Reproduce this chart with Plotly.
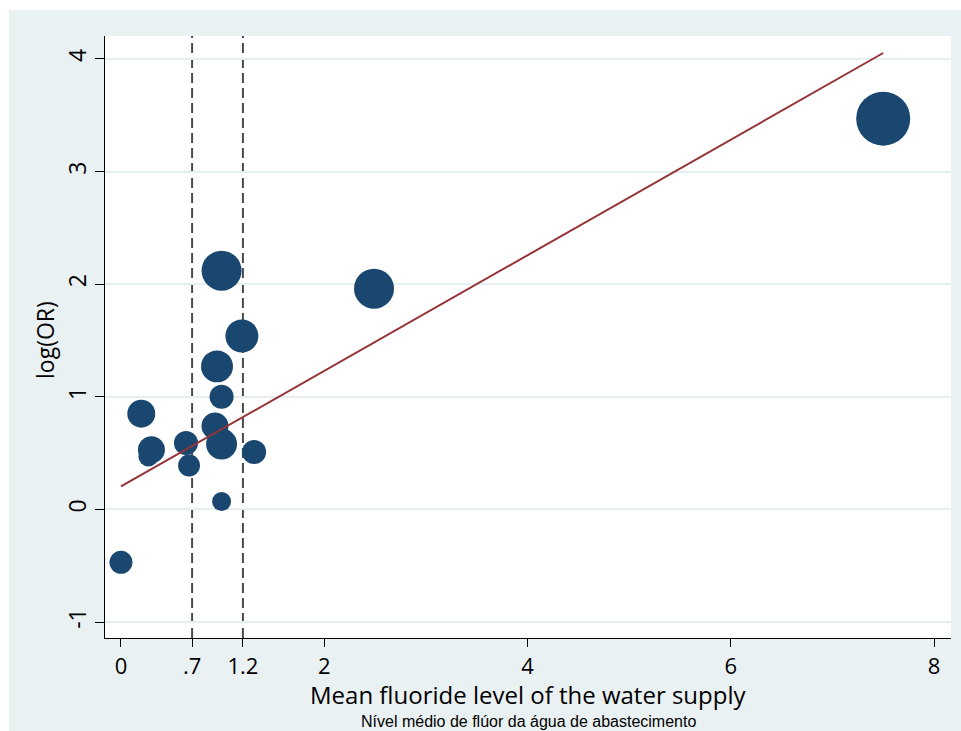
import plotly.graph_objects as go

# Study-level data
fluoride = [0.0, 0.2, 0.30, 0.27, 0.64, 0.67, 0.925, 0.99, 0.99, 0.99, 0.945, 0.99, 1.19, 1.31, 2.49, 7.5]
log_or = [-0.47, 0.85, 0.53, 0.47, 0.59, 0.39, 0.74, 0.58, 0.07, 1.00, 1.27, 2.12, 1.54, 0.51, 1.96, 3.47]
weights = [5.3, 7.8, 7.3, 4.0, 5.8, 4.8, 7.3, 9.6, 3.6, 5.8, 10.2, 16.0, 10.9, 5.8, 16.0, 29.2]

# Fitted meta-regression line
fit_x = [0.0, 7.5]
fit_y = [0.204, 4.053]

# Reference lines and ticks
ref_lines = [0.7, 1.2]
x_tickvals = [0, 0.7, 1.2, 2, 4, 6, 8]
x_ticktext = ["0", ".7", "1.2", "2", "4", "6", "8"]
y_tickvals = [-1, 0, 1, 2, 3, 4]
y_ticktext = ["-1", "0", "1", "2", "3", "4"]

BG = "#eaf1f3"
NAVY = "#1a476f"
MAIN_FONT = "Open Sans"

fig = go.Figure()

fig.add_trace(go.Scatter(
    x=fluoride, y=log_or, mode="markers",
    marker=dict(size=weights, sizemode="area", sizeref=0.02, color=NAVY,
                line=dict(width=0), opacity=1),
    hoverinfo="skip", showlegend=False,
))

fig.add_trace(go.Scatter(
    x=fit_x, y=fit_y, mode="lines",
    line=dict(color="#953438", width=2),
    hoverinfo="skip", showlegend=False,
))

for xv in ref_lines:
    fig.add_shape(type="line", xref="x", yref="paper", x0=xv, x1=xv, y0=0, y1=1,
                  line=dict(color="#4a4a4a", width=2, dash="10px,5px"), layer="below")

W, H = 961, 731
ml, mr, mt, mb = 105, 10, 36, 93
pw, ph = W - ml - mr, H - mt - mb

def px_to_paper_x(p):
    return (p - ml) / pw

def px_to_paper_y(p):
    return (H - mb - p) / ph

# white margins at top and left (outside the gray graph region)
fig.add_shape(type="rect", xref="paper", yref="paper",
              x0=px_to_paper_x(-2), x1=px_to_paper_x(9), y0=px_to_paper_y(H + 2), y1=px_to_paper_y(-2),
              fillcolor="white", line=dict(width=0), layer="above")
fig.add_shape(type="rect", xref="paper", yref="paper",
              x0=px_to_paper_x(-2), x1=px_to_paper_x(W + 2), y0=px_to_paper_y(10), y1=px_to_paper_y(-2),
              fillcolor="white", line=dict(width=0), layer="above")

fig.update_layout(
    width=W, height=H,
    margin=dict(l=ml, r=mr, t=mt, b=mb),
    paper_bgcolor=BG, plot_bgcolor="white",
    font=dict(family=MAIN_FONT, color="black"),
    xaxis=dict(
        range=[-0.157, 8.167], tickvals=x_tickvals, ticktext=x_ticktext,
        ticks="outside", ticklen=8, tickwidth=1.3, tickcolor="black",
        showline=True, linecolor="black", linewidth=1.3,
        showgrid=False, zeroline=False,
        tickfont=dict(size=22, family=MAIN_FONT),
    ),
    yaxis=dict(
        range=[-1.142, 4.204], tickvals=y_tickvals, ticktext=y_ticktext,
        ticks="outside", ticklen=9, tickwidth=1.3, tickcolor="black",
        tickangle=-90,
        showline=True, linecolor="black", linewidth=1.3,
        showgrid=True, gridcolor="#e6eef1", gridwidth=2, zeroline=False,
        tickfont=dict(size=23, family=MAIN_FONT),
    ),
    annotations=[
        dict(text="Mean fluoride level of the water supply",
             xref="paper", yref="paper", x=0.5, y=px_to_paper_y(694),
             xanchor="center", yanchor="middle", showarrow=False,
             font=dict(size=24, family=MAIN_FONT, color="black")),
        dict(text="log(OR)", textangle=-90,
             xref="paper", yref="paper", x=px_to_paper_x(45), y=px_to_paper_y(340),
             xanchor="center", yanchor="middle", showarrow=False,
             font=dict(size=23, family=MAIN_FONT, color="black")),
        dict(text="Nível médio de flúor da água de abastecimento",
             xref="paper", yref="paper", x=0.5, y=px_to_paper_y(721),
             xanchor="center", yanchor="middle", showarrow=False,
             font=dict(size=16, family="Liberation Sans", color="black")),
    ],
)

fig.write_html("out.html")
